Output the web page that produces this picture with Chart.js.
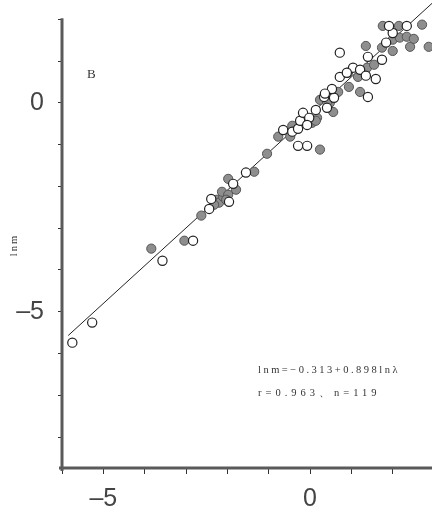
<!DOCTYPE html>
<html>
<head>
<meta charset="utf-8">
<script src="https://cdn.jsdelivr.net/npm/chart.js@4.4.1/dist/chart.umd.min.js"></script>
<style>
  html, body { margin: 0; padding: 0; background: #fff; }
  #wrap { width: 432px; height: 519px; }
</style>
</head>
<body>
<div id="wrap"><canvas id="chart"></canvas></div>
<script>
// shaded circles (ln lambda, ln m)
const filledX = [-3.84, -3.04, -2.63, -2.25, -2.20, -2.10, -2.13, -1.98, -1.98, -1.35,
  -1.04, -0.77, -0.48, -0.43, 0.05, 0.17, 0.24, 0.56, 0.48, 0.24,
  0.68, 0.94, 1.21, 1.16, 0.92, 1.38, 1.55, 1.35, 1.74, 2.00,
  2.42, 2.87, 2.00, 2.17, 2.34, 2.51, 1.76, 2.15, 2.71, -2.32,
  -2.03, 0.14, 0.41, -1.79];
const filledY = [-3.49, -3.30, -2.70, -2.32, -2.39, -2.25, -2.13, -2.20, -1.82, -1.65,
  -1.22, -0.81, -0.81, -0.55, -0.48, -0.36, -1.12, -0.22, 0.00, 0.07,
  0.26, 0.38, 0.26, 0.62, 0.72, 0.84, 0.91, 1.36, 1.32, 1.24,
  1.34, 1.34, 1.51, 1.56, 1.58, 1.53, 1.84, 1.84, 1.87, -2.44,
  -2.32, -0.43, 0.02, -2.08];

// open circles
const openX = [-5.75, -5.27, -3.57, -2.83, -2.44, -2.39, -1.96, -1.86, -1.55, -0.65,
  -0.43, -0.29, -0.29, -0.07, -0.24, -0.17, -0.02, -0.07, 0.41, 0.58,
  0.34, 0.53, 0.72, 0.72, 1.04, 1.21, 1.35, 1.59, 1.40, 1.40,
  1.74, 1.84, 2.00, 1.91, 2.34, 0.36, 0.89, 0.14];
const openY = [-5.74, -5.26, -3.78, -3.30, -2.54, -2.30, -2.37, -1.94, -1.67, -0.65,
  -0.69, -0.62, -1.03, -1.03, -0.43, -0.24, -0.36, -0.53, -0.12, 0.12,
  0.14, 0.33, 0.62, 1.20, 0.84, 0.79, 0.65, 0.57, 0.14, 1.10,
  1.03, 1.44, 1.67, 1.84, 1.84, 0.22, 0.72, -0.17];

// regression line end points
const lineX = [-5.85, 2.95];
const lineY = [-5.57, 2.38];

// axis ticks and which of them carry a label
const xTicks = [-6, -5, -4, -3, -2, -1, 0, 1, 2, 3];
const yTicks = [-8, -7, -6, -5, -4, -3, -2, -1, 0, 1, 2];
const xLabelTicks = [-5, 0];
const yLabelTicks = [-5, 0];

const toPoints = (xs, ys) => xs.map((x, i) => ({ x: x, y: ys[i] }));
const tickText = (labelled) => (v) =>
  labelled.includes(v) ? (v < 0 ? "\u2013" + Math.abs(v) : String(v)) : "";

// thick axis lines plus the free text
const decor = {
  id: "decor",
  afterDatasetsDraw(chart) {
    const ctx = chart.ctx;
    const xs = chart.scales.x;
    const ys = chart.scales.y;
    const left = chart.chartArea.left;
    const bottom = chart.chartArea.bottom;
    ctx.save();
    ctx.strokeStyle = "#5a5a5a";
    ctx.lineWidth = 3;
    ctx.beginPath();
    ctx.moveTo(left, ys.getPixelForValue(2) - 1);
    ctx.lineTo(left, bottom + 3);
    ctx.moveTo(left - 3, bottom);
    ctx.lineTo(xs.right, bottom);
    ctx.stroke();

    ctx.fillStyle = "#333";
    ctx.font = "13px 'Liberation Serif'";
    ctx.textBaseline = "middle";
    ctx.fillText("B", 87, 75);

    ctx.font = "10.5px 'Liberation Serif'";
    ctx.letterSpacing = "2.5px";
    ctx.fillText("lnm=\u22120.313+0.898ln\u03bb", 258, 370);
    ctx.letterSpacing = "4px";
    ctx.fillText("r=0.963\u3001n=119", 258, 393);

    ctx.letterSpacing = "2px";
    ctx.translate(14, 245);
    ctx.rotate(-Math.PI / 2);
    ctx.textAlign = "center";
    ctx.fillText("lnm", 0, 0);
    ctx.restore();
  }
};

new Chart(document.getElementById("chart"), {
  type: "scatter",
  data: {
    datasets: [
      {
        type: "line",
        data: toPoints(lineX, lineY),
        borderColor: "#222",
        borderWidth: 1,
        pointRadius: 0,
        fill: false,
        order: 3
      },
      {
        data: toPoints(filledX, filledY),
        backgroundColor: "#8e8e8e",
        borderColor: "#555",
        borderWidth: 1,
        pointRadius: 4.6,
        order: 2
      },
      {
        data: toPoints(openX, openY),
        backgroundColor: "#fff",
        borderColor: "#222",
        borderWidth: 1.2,
        pointRadius: 4.6,
        order: 1
      }
    ]
  },
  options: {
    responsive: true,
    maintainAspectRatio: false,
    animation: false,
    layout: { padding: 0, autoPadding: false },
    plugins: {
      legend: { display: false },
      tooltip: { enabled: false }
    },
    scales: {
      x: {
        type: "linear",
        min: -6,
        max: 2.95,
        afterBuildTicks: (s) => { s.ticks = xTicks.map((v) => ({ value: v })); },
        afterFit: (s) => {
          s.height = 51;
          s.paddingLeft = 0;
          s.paddingRight = 0;
        },
        border: { display: false },
        grid: { drawOnChartArea: false, tickLength: 6, color: "#333", lineWidth: 1 },
        ticks: {
          padding: 10,
          maxRotation: 0,
          autoSkip: false,
          color: "#444",
          font: { family: "'Liberation Sans'", size: 25 },
          callback: tickText(xLabelTicks)
        }
      },
      y: {
        type: "linear",
        min: -8.74,
        max: 2.46,
        afterBuildTicks: (s) => { s.ticks = yTicks.map((v) => ({ value: v })); },
        afterFit: (s) => {
          s.width = 62;
          s.paddingTop = 0;
          s.paddingBottom = 0;
        },
        border: { display: false },
        grid: { drawOnChartArea: false, tickLength: 4, color: "#333", lineWidth: 1 },
        ticks: {
          padding: 14,
          autoSkip: false,
          color: "#444",
          font: { family: "'Liberation Sans'", size: 25 },
          callback: tickText(yLabelTicks)
        }
      }
    }
  },
  plugins: [decor]
});
</script>
</body>
</html>
